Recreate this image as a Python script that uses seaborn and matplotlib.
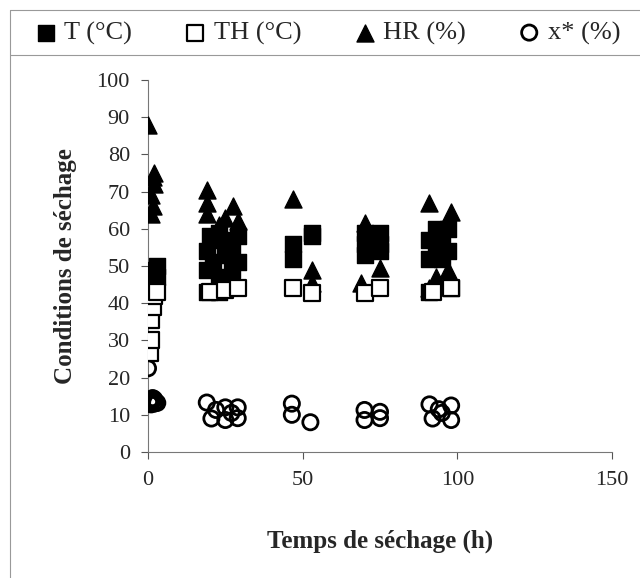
import matplotlib
matplotlib.use("Agg")
import matplotlib.pyplot as plt
import seaborn as sns
from matplotlib.lines import Line2D

sns.set_style("ticks")
plt.rcParams['font.family'] = ['Liberation Serif', 'DejaVu Serif']

# ---- data ----
# T (°C), filled squares
t_T = [1, 1.5, 2, 2.5, 3, 3,
       19, 19, 19, 20, 21, 21, 23, 23, 23, 25, 25, 27, 27, 29, 29,
       47, 47, 53, 53,
       70, 70, 70, 75, 75, 75,
       91, 91, 91, 93, 93, 95, 95, 97, 97, 98]
T = [44, 46, 48, 49, 50, 47,
     43, 49, 54, 58, 51, 57, 43, 47, 59, 53, 57, 49, 55, 51, 58,
     52, 56, 58, 59,
     59, 56, 53, 59, 56, 54,
     43, 52, 57, 55, 60, 52, 58, 54, 60, 44]

# TH (°C), open squares
t_TH = [0.5, 1, 1, 1.5, 2, 3, 20, 25, 29, 47, 53, 70, 75, 92, 98]
TH = [26.5, 30, 35.5, 39, 42, 43, 43, 43.5, 44, 44, 42.7, 42.7, 44, 43, 44]

# HR (%), filled triangles
t_HR = [0, 1, 1.5, 1, 2, 1.5, 2,
        19, 19, 19, 23, 25, 27.5, 29, 26,
        47, 53, 53,
        70, 75, 69,
        91, 98, 93, 97, 91]
HR = [88, 64, 66, 69, 72, 74, 75,
      70.5, 67, 64, 61, 63, 66, 62, 48,
      68, 49, 45.5,
      61.5, 49.5, 45.5,
      67, 64.5, 47, 49, 44]

# x* (%), open circles
t_x = [0, 0.5, 1, 1.5, 2, 2.5, 1, 2, 3, 0.5,
       19, 20.5, 22, 25, 25, 29, 29, 27,
       46.5, 46.5, 52.5,
       70, 70, 75, 75,
       91, 98, 92, 98, 95, 94]
x_star = [22.5, 14, 13.5, 14.5, 13, 13.5, 12.8, 14.2, 13.2, 13,
          13.3, 9, 11.3, 12, 8.6, 12, 9.1, 10.5,
          13, 10, 8,
          11.3, 8.6, 10.8, 9.1,
          12.8, 12.5, 9, 8.6, 10.5, 11.5]

fig = plt.figure(figsize=(6.4, 5.78), dpi=100)
ax = fig.add_axes([148/640, 1 - 452/578, (612 - 148)/640, (452 - 80)/578])

ms = 120
sns.scatterplot(x=t_T, y=T, marker='s', s=ms, color='black', edgecolor='black',
                linewidth=1, ax=ax, label='T (°C)', zorder=3)
sns.scatterplot(x=t_TH, y=TH, marker='s', s=ms, facecolor='white', edgecolor='black',
                linewidth=1.6, ax=ax, label='TH (°C)', zorder=4)
sns.scatterplot(x=t_HR, y=HR, marker='^', s=ms * 1.25, color='black', edgecolor='black',
                linewidth=1, ax=ax, label='HR (%)', zorder=3)
sns.scatterplot(x=t_x, y=x_star, marker='o', s=ms, facecolor='none', edgecolor='black',
                linewidth=2, ax=ax, label='x* (%)', zorder=3)

ax.set_xlim(0, 150)
ax.set_ylim(0, 100)
ax.set_xticks([0, 50, 100, 150])
ax.set_yticks(range(0, 101, 10))
ax.tick_params(axis='both', labelsize=16, length=5, width=0.8, color='#555555', pad=8)
ax.tick_params(axis='x', pad=9)
for s in ['top', 'right']:
    ax.spines[s].set_visible(False)
for s in ['left', 'bottom']:
    ax.spines[s].set_color('#777777')
    ax.spines[s].set_linewidth(0.8)

ax.set_xlabel("Temps de séchage (h)", fontsize=18, fontweight='bold', labelpad=28)
ax.set_ylabel("Conditions de séchage", fontsize=18, fontweight='bold', labelpad=14)

handles, labels = ax.get_legend_handles_labels()
ax.get_legend().remove()
fig.legend(handles, labels, loc='center', bbox_to_anchor=(0.512, 1 - 33/578), ncol=4,
           frameon=False, fontsize=19, handlelength=0.8, handletextpad=0.3,
           columnspacing=2.0, markerscale=1.0)

# outer chart border and legend separator
fig.add_artist(Line2D([10/640, 10/640], [0, 1 - 10/578], color='#999999', lw=0.8))
fig.add_artist(Line2D([10/640, 1], [1 - 10/578, 1 - 10/578], color='#999999', lw=0.8))
fig.add_artist(Line2D([10/640, 1], [1 - 55/578, 1 - 55/578], color='#999999', lw=0.8))

plt.savefig("out.png", dpi=100)
